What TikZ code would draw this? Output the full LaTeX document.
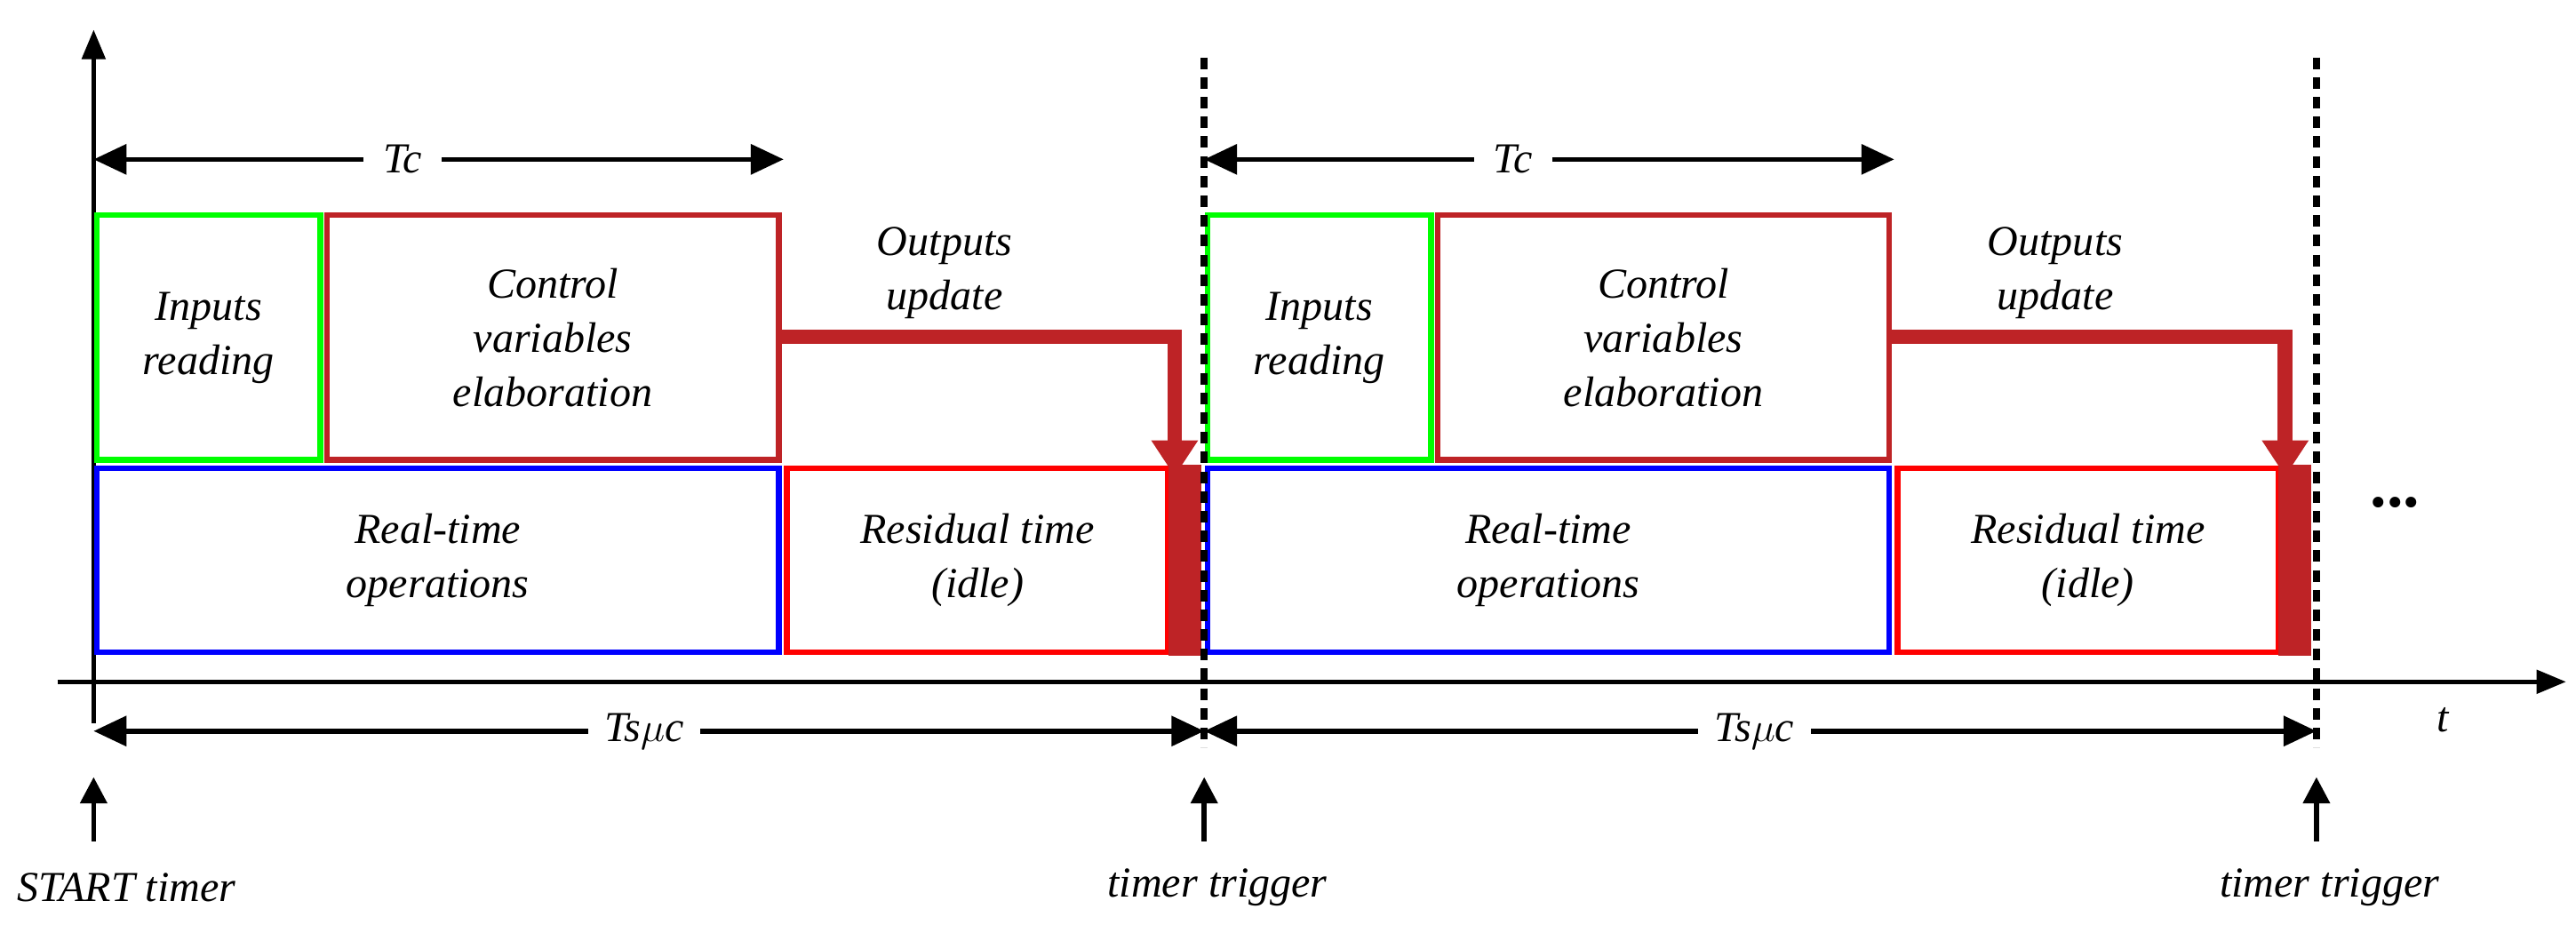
\documentclass[tikz,border=0pt]{standalone}
\usepackage{fontspec}
\setmainfont{Liberation Serif}[ItalicFont={Liberation Serif Italic},BoldFont={Liberation Serif Bold}]
\usetikzlibrary{arrows.meta}
\begin{document}
\begin{tikzpicture}[x=1pt,y=-1pt,
  lbl/.style={font=\fontsize{26}{33}\selectfont\itshape, align=center, inner sep=2pt},
  box/.style={line width=3.5pt},
  dim/.style={line width=3pt, {Triangle[length=20pt,width=18pt]}-{Triangle[length=20pt,width=18pt]}},
  ax/.style={line width=3pt, -{Triangle[length=18pt,width=14pt]}},
  up/.style={line width=3pt, -{Triangle[length=16pt,width=16pt]}},
  dsh/.style={line width=4.5pt, dash pattern=on 7pt off 5pt},
  outc/.style={line width=9pt, color=dr, -{Triangle[length=22pt,width=27pt]}}]
\definecolor{dr}{RGB}{190,35,38}
\definecolor{gr}{RGB}{0,255,0}
\useasboundingbox (0,0) rectangle (1568,563);
% axes
\coordinate (o) at (57,440);
\coordinate (ytop) at (57,18);
\coordinate (xl) at (35,415);
\coordinate (xr) at (1562,415);
\draw[ax] (o) -- (ytop);
\draw[ax] (xl) -- (xr);
\node[lbl] (t) at (1487,438) {t};
\node[font=\fontsize{40}{40}\selectfont\bfseries] (dots) at (1458,306) {...};
\foreach \o/\n in {0/a,676/b}{
  \begin{scope}[xshift=\o]
  \draw[box,gr] (59,131) rectangle node[lbl,black] (in\n) {Inputs\\reading} (195,280);
  \draw[box,dr] (199,131) rectangle node[lbl,black] (cv\n) {Control\\variables\\elaboration} (474,280);
  \draw[box,blue] (59,285) rectangle node[lbl,black] (rt\n) {Real-time\\operations} (474,397);
  \draw[box,red] (479,285) rectangle node[lbl,black] (rs\n) {Residual time\\(idle)} (711,397);
  \fill[dr] (711,283) rectangle (731,399);
  \coordinate (os\n) at (474,205);
  \coordinate (oc\n) at (715,205);
  \coordinate (oe\n) at (715,290);
  \draw[outc] (os\n) -- (oc\n) -- (oe\n);
  \node[lbl] (ou\n) at (575,166) {Outputs\\update};
  \coordinate (tl\n) at (57,97);
  \coordinate (tr\n) at (477,97);
  \draw[dim] (tl\n) -- (tr\n);
  \node[lbl, fill=white, inner xsep=12pt] (tc\n) at (245,97) {Tc};
  \end{scope}
}
\foreach \x/\n in {733/a,1410/b}{
  \coordinate (dt\n) at (\x,35);
  \coordinate (db\n) at (\x,455);
  \draw[dsh] (dt\n) -- (db\n);
}
\coordinate (s0) at (57,445); \coordinate (s1) at (733,445); \coordinate (s2) at (1410,445);
\draw[dim] (s0) -- (s1);
\draw[dim] (s1) -- (s2);
\node[lbl, fill=white, inner xsep=10pt] (tsa) at (392,445) {Ts$\mu$c};
\node[lbl, fill=white, inner xsep=10pt] (tsb) at (1068,445) {Ts$\mu$c};
\foreach \x/\n/\tx/\lx in {57/a/START timer/77,733/b/timer trigger/741,1410/c/timer trigger/1418}{
  \coordinate (ub\n) at (\x,512);
  \coordinate (ut\n) at (\x,473);
  \draw[up] (ub\n) -- (ut\n);
  \node[lbl] (ul\n) at (\lx,540) {\tx};
}
\end{tikzpicture}
\end{document}
